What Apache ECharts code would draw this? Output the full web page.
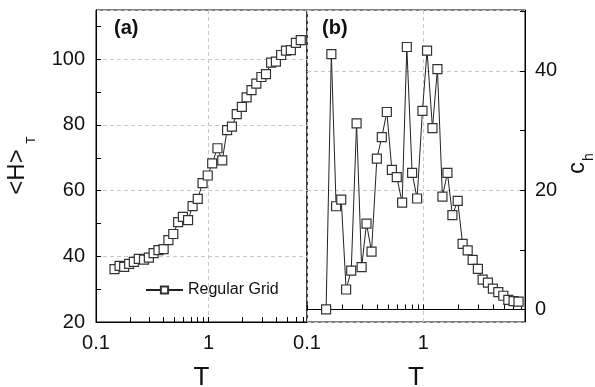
<!DOCTYPE html>
<html><head><meta charset="utf-8">
<script src="https://cdn.jsdelivr.net/npm/echarts@6/dist/echarts.min.js"></script>
<style>html,body{margin:0;padding:0;background:#fff}#c{width:595px;height:387px}</style>
</head><body><div id="c"></div>
<script>
// Temperature values (shared by both panels)
const T = [0.146,0.162,0.178,0.197,0.217,0.24,0.267,0.295,0.325,0.359,0.399,0.44,0.486,0.537,0.592,0.658,0.722,0.802,0.885,0.984,1.078,1.2,1.324,1.462,1.614,1.781,1.978,2.18,2.41,2.66,2.95,3.24,3.6,3.97,4.42,4.88,5.39,5.98,6.6];
// Panel (a): <H>_T
const H = [36.1,37.1,36.8,37.7,38.3,39.2,39.0,39.6,41.0,41.9,42.2,44.9,46.8,50.4,52.0,51.0,55.3,57.5,62.3,64.6,68.3,72.9,69.2,78.4,79.5,83.3,85.5,88.4,90.6,92.6,94.6,95.5,99.0,99.3,101.3,102.6,102.8,105.0,105.8];
// Panel (b): c_h
const CH = [0,42.8,17.3,18.4,3.35,6.5,31.2,7.1,14.4,9.7,25.3,28.9,33.1,23.4,22.2,17.9,44.0,22.9,18.6,33.3,43.4,30.4,40.3,18.9,22.9,15.8,18.2,11.0,9.9,8.3,6.8,5.0,4.5,3.5,2.9,2.3,1.6,1.4,1.3];
const xTickValues = [0.1,0.2,0.3,0.4,0.5,0.6,0.7,0.8,0.9,1,2,3,4,5,6,7];
const xLabelValues = [0.1, 1];
const hTickValues = [20,30,40,50,60,70,80,90,100,110];
const hLabelValues = [20,40,60,80,100];
const cTickValues = [0,10,20,30,40,50];
const cLabelValues = [0,20,40];
const seriesName = 'Regular Grid';

const FONT = "'Liberation Sans', Arial, Helvetica, sans-serif";
const chart = echarts.init(document.getElementById('c'), null, {renderer: 'canvas'});
const DASH = {show: true, lineStyle: {color: '#c8c8c8', type: [4, 3], width: 1}};

function xAxisMain(gi) {
  return {
    type: 'log', logBase: 10, gridIndex: gi, min: 0.1, max: 7.5,
    name: 'T', nameLocation: 'middle', nameGap: 43,
    nameTextStyle: {fontFamily: FONT, fontSize: 26, color: '#111'},
    axisLine: {show: true, lineStyle: {color: '#000', width: 1}},
    axisTick: {show: false},
    axisLabel: {customValues: xLabelValues, fontFamily: FONT, fontSize: 20, color: '#111', margin: 11,
      formatter: v => (Math.abs(v - 0.1) < 1e-6 ? '0.1' : String(Math.round(v)))},
    splitLine: DASH
  };
}
function xAxisTicks(gi) {
  return {
    type: 'log', logBase: 10, gridIndex: gi, min: 0.1, max: 7.5, position: 'bottom',
    axisLine: {show: false},
    axisTick: {show: true, inside: true, length: 5, customValues: xTickValues, lineStyle: {color: '#000'}},
    axisLabel: {show: false}, splitLine: {show: false}
  };
}

const seriesStyle = {
  type: 'line', name: seriesName, symbol: 'rect', symbolSize: 9,
  itemStyle: {color: '#fff', borderColor: '#333', borderWidth: 1.2},
  lineStyle: {color: '#222', width: 1},
  animation: false
};

chart.setOption({
  backgroundColor: '#fff',
  animation: false,
  grid: [
    {left: 96, top: 10, width: 211, height: 312, show: true, borderColor: '#000', borderWidth: 1, backgroundColor: 'transparent', containLabel: false, outerBoundsMode: 'none'},
    {left: 307, top: 10, width: 218, height: 312, show: true, borderColor: '#000', borderWidth: 1, backgroundColor: 'transparent', containLabel: false, outerBoundsMode: 'none'}
  ],
  xAxis: [xAxisMain(0), xAxisMain(1), xAxisTicks(0), xAxisTicks(1)],
  yAxis: [
    {type: 'value', gridIndex: 0, min: 20, max: 115, interval: 20, position: 'left',
     axisLine: {show: true, lineStyle: {color: '#000'}},
     axisTick: {show: false},
     axisLabel: {customValues: hLabelValues, fontFamily: FONT, fontSize: 20, color: '#111', margin: 11},
     splitLine: DASH},
    {type: 'value', gridIndex: 1, min: -2.1, max: 50.2, splitNumber: 3, position: 'right',
     axisLine: {show: true, lineStyle: {color: '#000'}},
     axisTick: {show: false},
     axisLabel: {customValues: cLabelValues, fontFamily: FONT, fontSize: 20, color: '#111', margin: 10},
     splitLine: DASH},
    {type: 'value', gridIndex: 0, min: 20, max: 115, interval: 10, position: 'left',
     axisLine: {show: false},
     axisTick: {show: true, inside: true, length: 5, customValues: hTickValues, lineStyle: {color: '#000'}},
     axisLabel: {show: false}, splitLine: {show: false}},
    {type: 'value', gridIndex: 1, min: -2.1, max: 50.2, splitNumber: 5, position: 'right',
     axisLine: {show: false},
     axisTick: {show: true, inside: true, length: 5, customValues: cTickValues, lineStyle: {color: '#000'}},
     axisLabel: {show: false}, splitLine: {show: false}}
  ],
  legend: {
    data: [seriesName], left: 140, top: 277, itemWidth: 37, itemHeight: 9, itemGap: 10,
    textStyle: {fontFamily: FONT, fontSize: 16, color: '#111'},
    selectedMode: false
  },
  graphic: [
    {type: 'text', left: 114, top: 18, style: {text: '(a)', font: "bold 20px " + FONT, fill: '#111'}},
    {type: 'text', left: 322, top: 18, style: {text: '(b)', font: "bold 20px " + FONT, fill: '#111'}},
    {type: 'text', x: 17, y: 172, rotation: Math.PI / 2, style: {text: '<H>', font: "24px " + FONT, fill: '#111', align: 'center', verticalAlign: 'middle'}},
    {type: 'text', x: 32, y: 140, rotation: Math.PI / 2, style: {text: 'T', font: "12px " + FONT, fill: '#111', align: 'center', verticalAlign: 'middle'}},
    {type: 'text', x: 577, y: 168, rotation: Math.PI / 2, style: {text: 'c', font: "24px " + FONT, fill: '#111', align: 'center', verticalAlign: 'middle'}},
    {type: 'text', x: 589, y: 157, rotation: Math.PI / 2, style: {text: 'h', font: "14px " + FONT, fill: '#111', align: 'center', verticalAlign: 'middle'}}
  ],
  series: [
    Object.assign({}, seriesStyle, {xAxisIndex: 0, yAxisIndex: 0, data: T.map((t, i) => [t, H[i]])}),
    Object.assign({}, seriesStyle, {xAxisIndex: 1, yAxisIndex: 1, data: T.map((t, i) => [t, CH[i]])})
  ]
});
</script>
</body></html>
